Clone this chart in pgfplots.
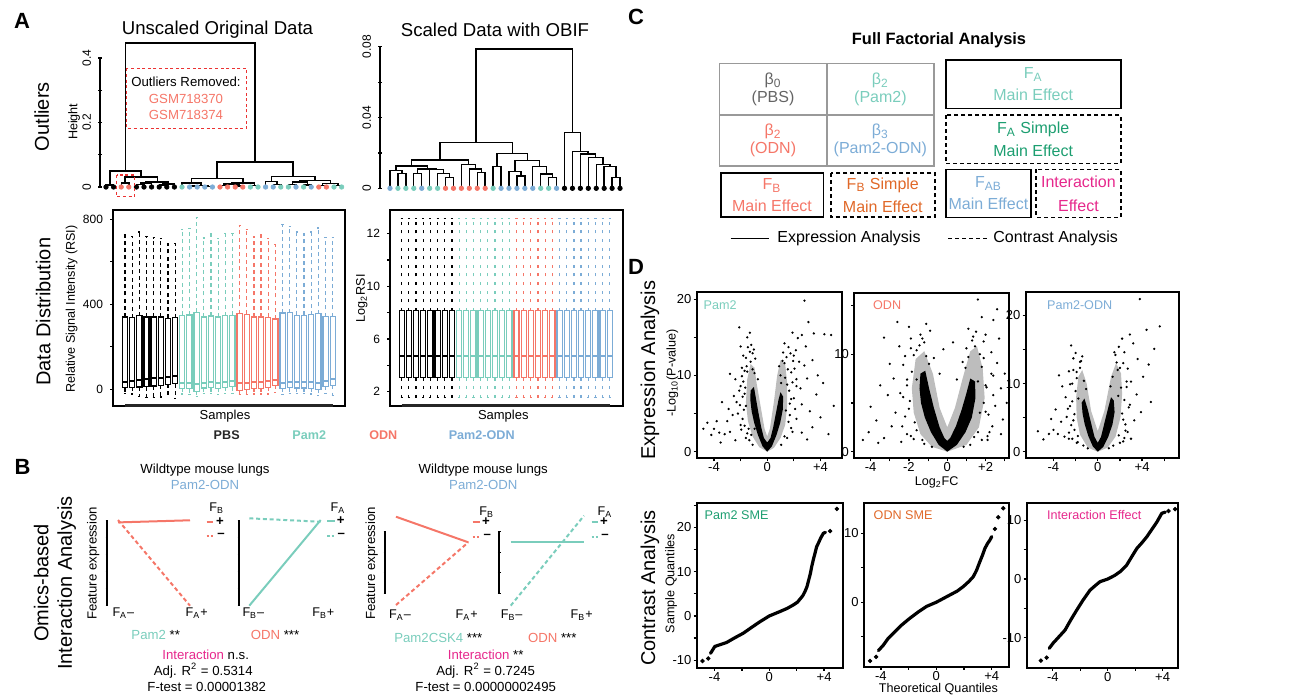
\documentclass[border=0pt]{standalone}
\usepackage{fontspec}
\setmainfont{Liberation Sans}
\usepackage{pgfplots}
\pgfplotsset{compat=1.18}
\usepgfplotslibrary{statistics}

\definecolor{tl}{RGB}{122,205,188}
\definecolor{sa}{RGB}{245,118,104}
\definecolor{bl}{RGB}{124,172,214}
\definecolor{gr}{RGB}{28,158,112}
\definecolor{og}{RGB}{224,104,40}
\definecolor{mg}{RGB}{230,40,140}
\definecolor{rd}{RGB}{235,50,50}
\definecolor{gy}{RGB}{100,100,100}

\newcommand\fs[1]{\fontsize{#1}{#1}\selectfont}
% one prepared box: colour, position, lower whisker, q1, median, q3, upper whisker
\newcommand\bxp[7]{\addplot[#1,line width=0.6pt,boxplot prepared={draw position=#2,lower whisker=#3,lower quartile=#4,median=#5,upper quartile=#6,upper whisker=#7}] coordinates {};}

\pgfplotsset{
  every axis/.append style={scale only axis, anchor=north west, clip=false,
    tick align=outside, major tick length=1.5pt,
    tick style={black, line width=0.6pt},
    axis line style={line width=0.8pt},
    tick label style={font=\fs{6}},
    scaled ticks=false,
    /pgf/number format/assume math mode=true},
  dendro/.style={axis y line=left, axis x line=none, axis line style={-},
    yticklabel style={rotate=90, anchor=south}, ymin=0, major tick length=2pt,
    unbounded coords=jump},
  boxax/.style={xtick=\empty, ytick pos=left, boxplot/draw direction=y,
    boxplot/box extend=0.72, boxplot/whisker extend=0.3,
    boxplot/every median/.style={line width=1pt}},
  inter/.style={axis y line=left, axis x line=none, axis line style={-, line width=1pt},
    yticklabels={}, ymin=0, ymax=1, xmax=1, major tick length=1.4pt},
  dplot/.style={xtick pos=bottom, ytick pos=left, tick label style={font=\fs{6.5}},
    xticklabel style={inner sep=0.6pt}, yticklabel style={inner sep=1pt},
    axis line style={line width=0.9pt}},
  vpts/.style={only marks, mark=*, mark size=0.35pt, black},
  vmid/.style={fill=black!26, draw=none},
}

\begin{document}
\begin{tikzpicture}
\useasboundingbox (0pt,0pt) rectangle (650pt,-348.5pt);

% ---------------- A: dendrograms
\begin{axis}[dendro, at={(50pt,-29pt)}, width=122.7pt, height=64.5pt,
  xmin=0.21, xmax=32.5, ymax=0.4, ytick={0,0.1,0.2,0.3,0.4}, yticklabels={0,,0.2,,0.4}]
\addplot[black, line width=0.7pt] coordinates {
(1,0)(1,0.006)(2,0.006)(2,0)(0,nan)
(3,0)(3,0.012)(4,0.012)(4,0)(0,nan)
(5,0)(5,0.008)(6,0.008)(6,0)(0,nan)
(5.5,0.008)(5.5,0.012)(7,0.012)(7,0)(0,nan)
(8,0)(8,0.006)(9,0.006)(9,0)(0,nan)
(8.5,0.006)(8.5,0.009)(10,0.009)(10,0)(0,nan)
(6.25,0.012)(6.25,0.016)(9.25,0.016)(9.25,0.009)(0,nan)
(3.5,0.012)(3.5,0.031)(7.75,0.031)(7.75,0.016)(0,nan)
(1.5,0.006)(1.5,0.05)(5.625,0.05)(5.625,0.031)(0,nan)
(12,0)(12,0.003)(13,0.003)(13,0)(0,nan)
(14,0)(14,0.002)(15,0.002)(15,0)(0,nan)
(12.5,0.003)(12.5,0.005)(14.5,0.005)(14.5,0.002)(0,nan)
(11,0)(11,0.012)(13.5,0.012)(13.5,0.005)(0,nan)
(16,0)(16,0.004)(17,0.004)(17,0)(0,nan)
(18,0)(18,0.003)(19,0.003)(19,0)(0,nan)
(16.5,0.004)(16.5,0.009)(18.5,0.009)(18.5,0.003)(0,nan)
(20,0)(20,0.005)(21,0.005)(21,0)(0,nan)
(17.5,0.009)(17.5,0.013)(20.5,0.013)(20.5,0.005)(0,nan)
(12.25,0.012)(12.25,0.027)(19,0.027)(19,0.013)(0,nan)
(23,0)(23,0.008)(24,0.008)(24,0)(0,nan)
(22,0)(22,0.017)(23.5,0.017)(23.5,0.008)(0,nan)
(25,0)(25,0.008)(26,0.008)(26,0)(0,nan)
(27,0)(27,0.006)(28,0.006)(28,0)(0,nan)
(25.5,0.008)(25.5,0.015)(27.5,0.015)(27.5,0.006)(0,nan)
(29,0)(29,0.005)(30,0.005)(30,0)(0,nan)
(31,0)(31,0.004)(32,0.004)(32,0)(0,nan)
(29.5,0.005)(29.5,0.010)(31.5,0.010)(31.5,0.004)(0,nan)
(26.5,0.015)(26.5,0.02)(30.5,0.02)(30.5,0.010)(0,nan)
(22.75,0.017)(22.75,0.032)(28.5,0.032)(28.5,0.02)(0,nan)
(15.625,0.027)(15.625,0.078)(25.625,0.078)(25.625,0.032)(0,nan)
(3.5625,0.05)(3.5625,0.447)(20.625,0.447)(20.625,0.078)
};
\addplot[only marks, mark=*, mark size=1.1pt, black] coordinates {(1,0)(2,0)(5,0)(6,0)(7,0)(8,0)(9,0)(10,0)};
\addplot[only marks, mark=*, mark size=1.1pt, sa] coordinates {(3,0)(4,0)(16,0)(17,0)(18,0)(19,0)(29,0)(30,0)};
\addplot[only marks, mark=*, mark size=1.1pt, tl] coordinates {(11,0)(20,0)(21,0)(24,0)(25,0)(27,0)(31,0)(32,0)};
\addplot[only marks, mark=*, mark size=1.1pt, bl] coordinates {(12,0)(13,0)(14,0)(15,0)(22,0)(23,0)(26,0)(28,0)};
\end{axis}

\begin{axis}[dendro, at={(190pt,-23.35pt)}, width=122pt, height=70.8pt,
  xmin=-0.26, xmax=30.5, ymax=0.08, ytick={0,0.02,0.04,0.06,0.08}, yticklabels={0,,0.04,,0.08}]
\addplot[black, line width=0.7pt] coordinates {
(2,0)(2,0.0085)(3,0.0085)(3,0)(0,nan)
(1,0)(1,0.010)(2.5,0.010)(2.5,0.0085)(0,nan)
(4,0)(4,0.0085)(5,0.0085)(5,0)(0,nan)
(8,0)(8,0.006)(9,0.006)(9,0)(0,nan)
(7,0)(7,0.0085)(8.5,0.0085)(8.5,0.006)(0,nan)
(6,0)(6,0.0105)(7.75,0.0105)(7.75,0.0085)(0,nan)
(4.5,0.0085)(4.5,0.011)(6.875,0.011)(6.875,0.0105)(0,nan)
(1.75,0.010)(1.75,0.0126)(5.69,0.0126)(5.69,0.011)(0,nan)
(12,0)(12,0.0088)(13,0.0088)(13,0)(0,nan)
(11,0)(11,0.011)(12.5,0.011)(12.5,0.0088)(0,nan)
(10,0)(10,0.0135)(11.75,0.0135)(11.75,0.011)(0,nan)
(3.72,0.0126)(3.72,0.016)(10.875,0.016)(10.875,0.0135)(0,nan)
(14,0)(14,0.0122)(15,0.0122)(15,0)(0,nan)
(17,0)(17,0.007)(18,0.007)(18,0)(0,nan)
(16,0)(16,0.0095)(17.5,0.0095)(17.5,0.007)(0,nan)
(21,0)(21,0.006)(22,0.006)(22,0)(0,nan)
(20,0)(20,0.008)(21.5,0.008)(21.5,0.006)(0,nan)
(19,0)(19,0.0122)(20.75,0.0122)(20.75,0.008)(0,nan)
(16.75,0.0095)(16.75,0.0156)(19.875,0.0156)(19.875,0.0122)(0,nan)
(14.5,0.0122)(14.5,0.0198)(18.31,0.0198)(18.31,0.0156)(0,nan)
(7.30,0.016)(7.30,0.026)(16.41,0.026)(16.41,0.0198)(0,nan)
(29,0)(29,0.006)(30,0.006)(30,0)(0,nan)
(28,0)(28,0.0123)(29.5,0.0123)(29.5,0.006)(0,nan)
(27,0)(27,0.0136)(28.75,0.0136)(28.75,0.0123)(0,nan)
(26,0)(26,0.0175)(27.875,0.0175)(27.875,0.0136)(0,nan)
(25,0)(25,0.0194)(26.94,0.0194)(26.94,0.0175)(0,nan)
(24,0)(24,0.0207)(25.97,0.0207)(25.97,0.0194)(0,nan)
(23,0)(23,0.0316)(24.98,0.0316)(24.98,0.0207)(0,nan)
(11.85,0.026)(11.85,0.0787)(23.99,0.0787)(23.99,0.0316)
};
\addplot[only marks, mark=*, mark size=1.1pt, bl] coordinates {(1,0)(5,0)(15,0)(16,0)(17,0)(18,0)(19,0)(22,0)};
\addplot[only marks, mark=*, mark size=1.1pt, tl] coordinates {(2,0)(3,0)(4,0)(6,0)(7,0)(14,0)(20,0)(21,0)};
\addplot[only marks, mark=*, mark size=1.1pt, sa] coordinates {(8,0)(9,0)(10,0)(11,0)(12,0)(13,0)};
\addplot[only marks, mark=*, mark size=1.1pt, black] coordinates {(23,0)(24,0)(25,0)(26,0)(27,0)(28,0)(29,0)(30,0)};
\end{axis}

% ---------------- A: box plots
\begin{axis}[boxax, at={(56.5pt,-105pt)}, width=116pt, height=97.85pt,
  xmin=-0.68, xmax=31.72, ymin=-77.2, ymax=843.8,
  ytick={0,200,400,600,800}, yticklabels={0,,400,,800},
  boxplot/every whisker/.style={dash pattern=on 2pt off 1.6pt}]
\bxp{black}{1}{-20}{8}{36}{340}{726}
\bxp{black}{2}{-22}{9}{41}{337}{718}
\bxp{black}{3}{-35}{11}{43}{346}{740}
\bxp{black}{4}{-38}{12}{50}{340}{718}
\bxp{black}{5}{-38}{16}{54}{340}{713}
\bxp{black}{6}{-36}{19}{55}{340}{710}
\bxp{black}{7}{-25}{24}{57}{335}{687}
\bxp{black}{8}{-45}{27}{61}{337}{687}
\bxp{tl}{9}{-22}{5}{30}{348}{751}
\bxp{tl}{10}{-25}{2}{30}{350}{757}
\bxp{tl}{11}{-35}{-10}{25}{362}{808}
\bxp{tl}{12}{-20}{6}{32}{340}{712}
\bxp{tl}{13}{-20}{8}{36}{345}{732}
\bxp{tl}{14}{-25}{4}{30}{340}{709}
\bxp{tl}{15}{-20}{10}{35}{346}{732}
\bxp{tl}{16}{-18}{12}{38}{348}{732}
\bxp{sa}{17}{-25}{-5}{28}{356}{770}
\bxp{sa}{18}{-25}{-2}{30}{353}{751}
\bxp{sa}{19}{-22}{4}{33}{340}{720}
\bxp{sa}{20}{-22}{5}{35}{340}{726}
\bxp{sa}{21}{-22}{10}{38}{339}{710}
\bxp{sa}{22}{-15}{18}{45}{331}{680}
\bxp{bl}{23}{-25}{5}{30}{359}{775}
\bxp{bl}{24}{-20}{8}{33}{361}{765}
\bxp{bl}{25}{-20}{6}{33}{348}{740}
\bxp{bl}{26}{-20}{6}{33}{348}{735}
\bxp{bl}{27}{-22}{5}{34}{351}{740}
\bxp{bl}{28}{-28}{0}{30}{356}{759}
\bxp{bl}{29}{-20}{15}{40}{342}{716}
\bxp{bl}{30}{-28}{18}{50}{342}{716}
\draw[line width=1.3pt, black!85] (axis cs:1,-77.2) -- (axis cs:30,-77.2);
\end{axis}

\begin{axis}[boxax, at={(195pt,-105pt)}, width=116.35pt, height=97.85pt,
  xmin=-0.63, xmax=31.8, ymin=0.94, ymax=15.8,
  ytick={2,4,6,8,10,12,14}, yticklabels={2,,6,,10,,12},
  boxplot/every whisker/.style={dash pattern=on 1.5pt off 2.8pt}]
\pgfplotsinvokeforeach{1,...,8}{\bxp{black}{#1}{1.57}{3.06}{4.73}{8.15}{15.17}}
\pgfplotsinvokeforeach{9,...,16}{\bxp{tl}{#1}{1.57}{3.06}{4.73}{8.15}{15.17}}
\pgfplotsinvokeforeach{17,...,22}{\bxp{sa}{#1}{1.57}{3.06}{4.73}{8.15}{15.17}}
\pgfplotsinvokeforeach{23,...,30}{\bxp{bl}{#1}{1.57}{3.06}{4.73}{8.15}{15.17}}
\draw[line width=1.3pt, black!85] (axis cs:1,0.94) -- (axis cs:30,0.94);
\end{axis}

% ---------------- B: interaction plots
\begin{axis}[inter, at={(53.5pt,-260.35pt)}, width=41.5pt, height=42.5pt,
  xmin=-0.153, ytick={0,0.2,0.4,0.6,0.8,1}]
\addplot[sa, line width=1pt] coordinates {(0,0.98)(1,1.005)};
\addplot[sa, line width=1pt, dash pattern=on 2pt off 1.4pt] coordinates {(0,1.008)(1,0)};
\end{axis}
\begin{axis}[inter, at={(119.5pt,-260.35pt)}, width=40.85pt, height=42.5pt,
  xmin=-0.144, ytick={0,0.2,0.4,0.6,0.8,1}]
\addplot[tl, line width=1pt, dash pattern=on 2pt off 1.4pt] coordinates {(0,1.028)(1,0.988)};
\addplot[tl, line width=1pt] coordinates {(0,0)(1,1.008)};
\end{axis}
\begin{axis}[inter, at={(192.5pt,-265.85pt)}, width=41.65pt, height=30.8pt,
  xmin=-0.152, ytick={0,0.3333,0.6667,1}]
\addplot[sa, line width=1pt] coordinates {(0,1.243)(1,0.828)};
\addplot[sa, line width=1pt, dash pattern=on 2pt off 1.4pt] coordinates {(0,-0.19)(1,0.828)};
\end{axis}
\begin{axis}[inter, at={(249.65pt,-265.85pt)}, width=42.35pt, height=30.8pt,
  xmin=-0.156, ytick={0,0.3333,0.6667,1}]
\addplot[tl, line width=1pt] coordinates {(0,0.828)(1,0.828)};
\addplot[tl, line width=1pt, dash pattern=on 2pt off 1.4pt] coordinates {(0,-0.2)(1,1.26)};
\end{axis}

% ---------------- D: volcano plots
\begin{axis}[dplot, at={(348.35pt,-146.15pt)}, width=72.5pt, height=83pt,
  xmin=-5.3, xmax=5.6, ymin=-0.87, ymax=20.9,
  xtick={-4,-2,0,2,4}, xticklabels={-4,,0,,+4}, ytick={0,5,10,15,20}, yticklabels={0,,10,,20}]
\addplot[vmid] coordinates {(0,0)(-0.6,0.6)(-1.1,2)(-1.45,4)(-1.6,6.5)(-1.5,9.5)(-1.25,11.5)(-0.95,11)(-0.8,9)(-0.5,6)(-0.2,3)(0,2)(0.2,3)(0.5,6.5)(0.75,10)(1.0,12)(1.35,11.5)(1.5,9)(1.5,6)(1.35,3.5)(1.0,1.8)(0.5,0.5)};
\addplot[fill=black, draw=none] coordinates {(0,0)(-0.35,0.7)(-0.7,2.2)(-0.98,3.8)(-1.17,5.3)(-1.27,6.8)(-1.25,8)(-1.0,8.5)(-0.85,7)(-0.65,5)(-0.45,3.2)(-0.25,1.8)(0,1.2)(0.25,1.8)(0.45,3.2)(0.65,5)(0.85,6.8)(1.0,7.8)(1.2,7.2)(1.17,5.5)(0.98,3.8)(0.7,2.2)(0.35,0.7)};
\addplot[vpts] coordinates {
(-1.5,10.5)(-1.8,9.2)(-2.1,8.0)(-1.6,12.3)(-1.3,13.1)(-1.9,11.0)(-2.3,6.5)(-2.6,4.8)(-2.0,3.5)(-2.8,2.6)
(-3.2,2.3)(-3.6,2.5)(-4.2,2.2)(-4.0,3.0)(-3.0,4.0)(-2.4,9.5)(-1.2,14.0)(-1.0,13.4)(-2.0,13.8)(-1.5,15.0)
(-0.9,12.2)(-1.7,7.6)(-2.5,7.3)(-2.2,5.0)(-1.4,3.0)(-1.6,1.8)(-2.4,1.5)(-3.5,1.2)(-4.8,3.0)(-3.4,6.5)
(-2.8,10.2)(-1.1,10.8)(-0.7,9.5)(-1.3,15.6)(-2.1,16.3)(-0.95,3.0)(-1.2,2.2)(-2.9,5.6)(-3.8,4.0)(-4.5,3.8)
(1.3,11.6)(1.6,13.7)(2.0,12.6)(1.8,10.4)(2.2,9.5)(2.5,8.3)(2.8,11.3)(1.5,8.8)(2.3,14.9)(1.9,15.6)
(2.6,15.3)(1.2,13.0)(2.0,7.0)(2.6,6.2)(3.0,9.6)(3.4,12.0)(3.8,10.0)(3.2,5.3)(2.2,4.3)(1.8,3.1)
(2.6,2.5)(3.4,3.2)(4.0,4.5)(4.3,15.4)(4.8,15.3)(3.5,15.5)(2.8,19.8)(3.1,17.0)(1.4,5.4)(1.0,10.0)
(0.9,11.2)(1.7,6.3)(2.4,11.8)(3.7,7.5)(4.2,9.0)(2.9,13.8)(1.5,1.8)(3.0,1.6)(4.6,2.3)(5.0,6.0)
(-1.75,5.5)(-1.85,7.2)(-1.65,8.4)(-1.9,9.9)(-1.55,11.2)(-1.45,13.7)(-1.85,4.3)(-1.7,3.4)(-1.35,1.5)(-1.1,0.9)
(-1.95,2.9)(-2.05,6.1)(-1.8,12.6)(-1.1,12.9)(-1.25,11.8)(-1.7,10.6)(-2.0,8.6)(-1.6,6.0)(-1.5,2.4)(-0.95,10.3)
(1.7,4.8)(1.8,6.9)(1.65,8.0)(1.9,9.1)(1.55,10.8)(1.45,12.4)(1.95,11.9)(1.6,3.9)(1.3,2.0)(1.05,0.9)
(2.1,5.6)(2.2,8.6)(2.05,10.9)(1.15,11.9)(1.35,9.7)(1.75,12.9)(1.9,2.6)(2.15,13.3)(1.05,9.0)(1.3,14.2)};
\end{axis}

\begin{axis}[dplot, at={(427.15pt,-146.35pt)}, width=77.35pt, height=82.8pt,
  xmin=-4.85, xmax=3.22, ymin=-0.68, ymax=16.3,
  xtick={-4,-3,-2,-1,0,1,2,3}, xticklabels={-4,,-2,,0,,+2,}, ytick={0,5,10,15}, yticklabels={0,,10,}]
\addplot[vmid] coordinates {(0,0)(-0.8,0.5)(-1.4,1.8)(-1.75,4.0)(-1.85,6.5)(-1.65,9.5)(-1.2,10.3)(-0.75,8)(-0.4,4.5)(0,2.5)(0.4,4.5)(0.8,7.5)(1.2,10.3)(1.55,10.8)(1.85,8.5)(1.95,5.5)(1.65,2.5)(1.0,0.7)};
\addplot[fill=black, draw=none] coordinates {(0,0)(-0.45,0.7)(-0.85,2.0)(-1.17,3.5)(-1.37,5.0)(-1.45,6.5)(-1.4,8.0)(-1.15,8.3)(-0.95,6.5)(-0.7,4.5)(-0.4,2.5)(-0.15,1.4)(0,1.1)(0.15,1.4)(0.45,2.6)(0.75,4.3)(1.0,6.0)(1.2,7.5)(1.45,7.2)(1.47,5.5)(1.28,3.5)(0.95,2.0)(0.5,0.7)};
\addplot[vpts] coordinates {
(-2.2,9.8)(-2.5,10.8)(-1.9,11.6)(-1.1,13.1)(-1.4,12.0)(-2.8,7.5)(-3.1,5.8)(-2.7,4.0)(-3.7,3.2)(-4.1,2.0)
(-3.3,1.4)(-2.4,1.0)(-2.9,2.6)(-2.0,12.8)(-0.9,12.4)(-3.5,6.8)(-2.1,7.4)(-1.7,3.0)(-3.0,9.0)(-4.0,4.6)
(-1.3,1.2)(-2.3,5.6)(-1.2,11.2)(-2.6,13.3)(-0.7,9.6)(-3.6,0.9)(-4.4,1.2)(-1.9,1.6)(-1.6,10.4)(-3.3,11.7)
(1.5,12.3)(2.4,13.5)(1.6,15.6)(2.0,12.0)(2.3,10.2)(2.6,9.1)(2.8,6.5)(2.5,4.7)(2.9,3.3)(2.2,2.0)
(1.9,9.6)(1.3,11.4)(1.0,10.6)(2.7,11.6)(3.0,8.0)(1.8,13.8)(2.1,1.2)(2.8,1.8)(0.8,9.2)(1.1,12.6)
(2.6,14.6)(2.0,6.8)(1.7,4.0)(3.1,5.0)(2.4,7.8)(1.4,1.5)(0.5,7.4)(-0.4,8.0)(-0.2,10.5)(0.3,11.2)
(-1.95,5.2)(-2.1,6.8)(-1.85,8.2)(-2.2,3.6)(-1.6,2.2)(-1.2,0.8)(-2.3,8.9)(-1.75,9.9)(-1.45,10.9)(-1.1,9.8)
(-2.0,4.4)(-1.75,1.3)(-2.35,2.6)(-1.3,11.6)(-0.95,9.0)(-2.45,6.0)(-1.9,10.6)(-1.6,7.4)(-2.1,1.8)(-0.8,0.5)
(1.9,5.0)(2.05,6.6)(1.8,8.7)(2.15,3.8)(1.6,2.0)(1.2,0.7)(2.3,8.0)(1.7,10.0)(1.45,10.8)(1.1,9.7)
(2.0,4.1)(1.8,1.2)(2.35,2.6)(1.35,11.8)(0.95,8.6)(2.4,5.8)(1.9,11.3)(1.6,7.2)(2.1,1.6)(0.85,0.5)};
\end{axis}

\begin{axis}[dplot, at={(512.85pt,-146.15pt)}, width=76.8pt, height=83pt,
  xmin=-6.5, xmax=7.36, ymin=-0.97, ymax=23.4,
  xtick={-4,-2,0,2,4,6}, xticklabels={-4,,0,,+4,}, ytick={0,5,10,15,20}, yticklabels={0,,10,,20}]
\addplot[vmid] coordinates {(0,0)(-0.9,0.6)(-1.6,2.5)(-1.9,5)(-1.95,8)(-1.75,11)(-1.4,12)(-1.0,10)(-0.6,6)(0,3)(0.6,6)(1.2,11)(1.65,13)(2.1,11.5)(2.2,8.5)(2.05,5)(1.6,2.2)(0.9,0.6)};
\addplot[fill=black, draw=none] coordinates {(0,0)(-0.45,0.8)(-0.85,2.3)(-1.17,4)(-1.37,5.6)(-1.45,7.2)(-1.2,7.8)(-0.9,6.2)(-0.6,4.2)(-0.3,2.2)(0,1.3)(0.3,2.2)(0.6,4.2)(0.95,6.5)(1.2,8.0)(1.45,7.5)(1.52,5.8)(1.33,4.0)(0.95,2.2)(0.5,0.7)};
\addplot[vpts] coordinates {
(-2.2,13.7)(-2.6,11.8)(-2.8,5.1)(-4,3.2)(-3.3,4.4)(-3.6,2.6)(-2.9,8.0)(-2.3,10.0)(-1.6,13.2)(-2.5,6.7)
(-3.0,2.2)(-4.4,2.6)(-4.9,1.8)(-3.8,6.2)(-2.0,14.5)(-1.4,14.0)(-3.2,9.6)(-2.1,3.2)(-1.8,1.4)(-2.6,1.9)
(-5.4,3.0)(-3.5,11.2)(-2.4,15.6)(-1.9,10.8)(-4.2,4.8)
(3.2,15.9)(4.4,17.9)(5.6,18.4)(3.8,22.4)(2.4,14.6)(2.7,12.2)(3.0,10.3)(3.5,8.4)(2.9,6.9)(3.3,4.6)
(2.5,3.1)(2.2,16.6)(2.9,17.2)(3.6,13.6)(4.1,11.0)(4.6,12.8)(2.6,9.5)(1.9,15.4)(1.5,14.6)(3.9,5.8)
(4.8,7.3)(2.3,1.5)(3.0,1.9)(1.8,12.0)(5.1,15.1)
(-2.1,5.5)(-2.3,7.4)(-2.0,8.9)(-2.4,3.9)(-1.8,2.3)(-1.3,0.9)(-2.5,9.9)(-1.9,11.7)(-1.6,12.3)(-1.25,10.4)
(-2.2,4.6)(-1.9,1.3)(-2.6,2.8)(-1.5,13.3)(-1.05,9.2)(-2.7,6.3)(-2.2,12.0)(-1.75,7.8)(-2.3,1.9)(-0.9,0.5)
(2.2,5.6)(2.4,7.6)(2.1,9.4)(2.5,4.0)(1.9,2.4)(1.4,0.9)(2.6,10.3)(2.0,12.3)(1.7,13.1)(1.35,11.0)
(2.3,4.7)(2.0,1.3)(2.7,2.9)(1.6,14.2)(1.15,9.6)(2.8,6.5)(2.3,13.0)(1.85,8.2)(2.4,2.0)(1.0,0.5)};
\end{axis}

% ---------------- D: QQ plots
\begin{axis}[dplot, at={(348.35pt,-251.35pt)}, width=73pt, height=82.5pt,
  xmin=-5.3, xmax=5.36, ymin=-11.7, ymax=25.6,
  xtick={-4,-2,0,2,4}, xticklabels={-4,,0,,+4},
  ytick={-10,-5,0,5,10,15,20,25}, yticklabels={-10,,0,,10,,20,}]
\addplot[black, line width=1.6pt, line join=round, line cap=round] coordinates {
(-4.29,-8.45)(-3.98,-6.9)(-3.6,-6.5)(-3.12,-6.0)(-2.5,-4.9)(-1.9,-3.9)(-1.3,-2.6)(-0.68,-1.3)(0,0)
(0.78,1.0)(1.3,1.7)(1.76,2.5)(2.05,3.1)(2.24,3.8)(2.45,4.6)(2.6,5.5)(2.75,6.6)(2.85,7.8)(3.0,9.6)
(3.1,11.2)(3.22,12.8)(3.34,14.2)(3.45,15.6)(3.59,16.5)(3.75,17.6)(3.95,18.7)(4.1,18.9)};
\addplot[only marks, mark=*, mark size=0.9pt, black] coordinates {(-4.88,-10.2)(-4.46,-9.6)(4.44,19.2)(4.93,24.2)};
\end{axis}

\begin{axis}[dplot, at={(432pt,-251.35pt)}, width=72.65pt, height=82pt,
  xmin=-5.22, xmax=5.27, ymin=-9.33, ymax=14.4,
  xtick={-4,-2,0,2,4}, xticklabels={-4,,0,,+4},
  ytick={-5,0,5,10}, yticklabels={,0,,10}]
\addplot[black, line width=1.6pt, line join=round, line cap=round] coordinates {
(-4.18,-7.0)(-3.82,-6.2)(-3.5,-5.3)(-3.1,-4.5)(-2.5,-3.3)(-1.9,-2.3)(-1.3,-1.4)(-0.7,-0.6)(0,0)
(0.99,1.06)(1.5,1.6)(1.95,2.27)(2.35,3.0)(2.67,3.7)(2.9,4.6)(3.15,5.9)(3.35,6.9)(3.51,7.8)
(3.7,8.5)(3.87,9.0)(4.0,9.5)};
\addplot[only marks, mark=*, mark size=0.9pt, black] coordinates {(-4.78,-8.5)(-4.35,-7.9)(4.23,10.6)(4.47,12.3)(4.83,13.6)};
\end{axis}

\begin{axis}[dplot, at={(513.35pt,-251.35pt)}, width=75.5pt, height=82.5pt,
  xmin=-5.9, xmax=5.1, ymin=-15.1, ymax=13.0,
  xtick={-4,-2,0,2,4}, xticklabels={-4,,0,,+4},
  ytick={-10,-5,0,5,10}, yticklabels={-10,,0,,10}]
\addplot[black, line width=1.6pt, line join=round, line cap=round] coordinates {
(-4.26,-11.8)(-3.97,-10.9)(-3.5,-9.7)(-3.11,-8.7)(-2.7,-7.0)(-2.26,-5.3)(-1.8,-3.6)(-1.29,-1.9)
(-0.9,-1.1)(-0.56,-0.45)(0,0)(0.5,0.6)(0.9,1.25)(1.15,1.8)(1.39,2.4)(1.75,3.8)(2.12,5.2)(2.5,6.2)
(2.85,7.2)(3.2,8.4)(3.58,9.7)(3.94,11.2)(4.2,11.4)};
\addplot[only marks, mark=*, mark size=0.9pt, black] coordinates {(-4.87,-13.9)(-4.45,-13.4)(4.43,11.6)(4.91,11.9)};
\end{axis}

% ---------------- annotations
\begin{scope}[every node/.style={inner sep=0pt}]
% panel letters
\node[font=\bfseries\fs{11}] at (11pt,-10.5pt) {A};
\node[font=\bfseries\fs{11}] at (11.25pt,-233.35pt) {B};
\node[font=\bfseries\fs{11}] at (318pt,-8.3pt) {C};
\node[font=\bfseries\fs{11}] at (318pt,-133.5pt) {D};
% A
\node[font=\fs{9.3}] at (108.75pt,-15pt) {Unscaled Original Data};
\node[font=\fs{9.3}] at (247.5pt,-15pt) {Scaled Data with OBIF};
\node[font=\fs{10}, rotate=90] at (20.85pt,-58.35pt) {Outliers};
\node[font=\fs{10}, rotate=90] at (21.65pt,-155.85pt) {Data Distribution};
\node[font=\fs{6.3}, rotate=90] at (37pt,-60.85pt) {Height};
\node[font=\fs{6.3}, rotate=90] at (35.85pt,-154.5pt) {Relative Signal Intensity (RSI)};
\node[font=\fs{6.3}, rotate=90] at (180.85pt,-149.15pt) {Log\textsubscript{2}RSI};
\node[font=\fs{6.5}] at (112.5pt,-207.85pt) {Samples};
\node[font=\fs{6.5}] at (251.65pt,-207.85pt) {Samples};
\node[font=\bfseries\fs{6.3}, text=black!85] at (113.35pt,-217.5pt) {PBS};
\node[font=\bfseries\fs{6.3}, text=tl] at (154.65pt,-217.5pt) {Pam2};
\node[font=\bfseries\fs{6.3}, text=sa] at (191.65pt,-217.5pt) {ODN};
\node[font=\bfseries\fs{6.3}, text=bl] at (240.85pt,-217.5pt) {Pam2-ODN};
\draw[rd, line width=0.7pt, dash pattern=on 1.5pt off 1.3pt] (63.35pt,-34.15pt) rectangle (123.35pt,-64.15pt);
\draw[rd, line width=0.7pt, dash pattern=on 1.5pt off 1.3pt] (58.35pt,-87.5pt) rectangle (67.15pt,-98.35pt);
\node[font=\fs{6.6}] at (93pt,-40.85pt) {Outliers Removed:};
\node[font=\fs{6.6}, text=sa] at (93pt,-49.5pt) {GSM718370};
\node[font=\fs{6.6}, text=sa] at (93pt,-57.5pt) {GSM718374};
% B
\node[font=\fontsize{10}{11.7}\selectfont, rotate=90, align=center] at (27.5pt,-291.5pt) {Omics-based\\Interaction Analysis};
\node[font=\fs{6.6}, rotate=90] at (46.65pt,-281.65pt) {Feature expression};
\node[font=\fs{6.6}, rotate=90] at (185.85pt,-281.65pt) {Feature expression};
\node[font=\fs{6.6}] at (102.5pt,-235pt) {Wildtype mouse lungs};
\node[font=\fs{6.6}, text=bl] at (102.5pt,-242.5pt) {Pam2-ODN};
\node[font=\fs{6.6}] at (241.65pt,-235pt) {Wildtype mouse lungs};
\node[font=\fs{6.6}, text=bl] at (241.65pt,-242.5pt) {Pam2-ODN};
% B legends
\node[font=\fs{6.3}] at (108.35pt,-254.15pt) {F\textsubscript{B}};
\draw[sa, line width=1pt] (103.35pt,-260.85pt) -- (106.65pt,-260.85pt);
\node[font=\bfseries\fs{6.6}] at (110pt,-260.85pt) {+};
\draw[sa, line width=1pt, dash pattern=on 1.2pt off 0.9pt] (103.35pt,-267.85pt) -- (107.5pt,-267.85pt);
\node[font=\bfseries\fs{6.6}] at (110.5pt,-267.85pt) {–};
\node[font=\fs{6.3}] at (169pt,-254.15pt) {F\textsubscript{A}};
\draw[tl, line width=1pt] (163.65pt,-260.5pt) -- (167.35pt,-260.5pt);
\node[font=\bfseries\fs{6.6}] at (170.35pt,-260.5pt) {+};
\draw[tl, line width=1pt, dash pattern=on 1.2pt off 0.9pt] (163.65pt,-267.85pt) -- (167.5pt,-267.85pt);
\node[font=\bfseries\fs{6.6}] at (170.65pt,-267.85pt) {–};
\node[font=\fs{6.3}] at (243.35pt,-255.85pt) {F\textsubscript{B}};
\draw[sa, line width=1pt] (236.35pt,-260.85pt) -- (240pt,-260.85pt);
\node[font=\bfseries\fs{6.6}] at (243pt,-260.85pt) {+};
\draw[sa, line width=1pt, dash pattern=on 1.2pt off 0.9pt] (236.35pt,-268.35pt) -- (240.5pt,-268.35pt);
\node[font=\bfseries\fs{6.6}] at (243.65pt,-268.35pt) {–};
\node[font=\fs{6.3}] at (302.5pt,-255.85pt) {F\textsubscript{A}};
\draw[tl, line width=1pt] (295.85pt,-260.85pt) -- (299.15pt,-260.85pt);
\node[font=\bfseries\fs{6.6}] at (302pt,-260.85pt) {+};
\draw[tl, line width=1pt, dash pattern=on 1.2pt off 0.9pt] (295.85pt,-268.35pt) -- (300pt,-268.35pt);
\node[font=\bfseries\fs{6.6}] at (302.5pt,-268.35pt) {–};
% B factor labels
\node[font=\fs{6.3}] at (61.65pt,-306.65pt) {F\textsubscript{A}–};
\node[font=\fs{6.3}] at (98.35pt,-306.65pt) {F\textsubscript{A}+};
\node[font=\fs{6.3}] at (126.65pt,-306.65pt) {F\textsubscript{B}–};
\node[font=\fs{6.3}] at (161.65pt,-306.65pt) {F\textsubscript{B}+};
\node[font=\fs{6.3}] at (200pt,-307.5pt) {F\textsubscript{A}–};
\node[font=\fs{6.3}] at (233.35pt,-307.5pt) {F\textsubscript{A}+};
\node[font=\fs{6.3}] at (255.85pt,-307.5pt) {F\textsubscript{B}–};
\node[font=\fs{6.3}] at (290.85pt,-307.5pt) {F\textsubscript{B}+};
% B statistics
\node[font=\fs{6.6}] at (77.85pt,-317.5pt) {\textcolor{tl}{Pam2} **};
\node[font=\fs{6.6}] at (137.5pt,-317.5pt) {\textcolor{sa}{ODN} ***};
\node[font=\fs{6.6}] at (102.85pt,-327.5pt) {\textcolor{mg}{Interaction} n.s.};
\node[font=\fs{6.6}] at (101.65pt,-335.35pt) {Adj. R\textsuperscript{2} = 0.5314};
\node[font=\fs{6.6}] at (103.35pt,-343.65pt) {F-test = 0.00001382};
\node[font=\fs{6.6}] at (219.15pt,-319.15pt) {\textcolor{tl}{Pam2CSK4} ***};
\node[font=\fs{6.6}] at (276.15pt,-319.15pt) {\textcolor{sa}{ODN} ***};
\node[font=\fs{6.6}] at (242.85pt,-327.5pt) {\textcolor{mg}{Interaction} **};
\node[font=\fs{6.6}] at (242.85pt,-335.35pt) {Adj. R\textsuperscript{2} = 0.7245};
\node[font=\fs{6.6}] at (242.85pt,-343.65pt) {F-test = 0.00000002495};
% C
\node[font=\bfseries\fs{8.2}] at (469.5pt,-20pt) {Full Factorial Analysis};
\draw[black!40, line width=0.8pt] (359.65pt,-31.65pt) rectangle (467pt,-82.85pt);
\draw[black!40, line width=0.8pt] (413.35pt,-31.65pt) -- (413.35pt,-82.85pt);
\draw[black!40, line width=0.8pt] (359.65pt,-57.5pt) -- (467pt,-57.5pt);
\node[font=\fontsize{8}{8.7}\selectfont, align=center, text=gy] at (386.5pt,-44.6pt) {β\textsubscript{0}\\(PBS)};
\node[font=\fontsize{8}{8.7}\selectfont, align=center, text=tl] at (440.2pt,-44.6pt) {β\textsubscript{2}\\(Pam2)};
\node[font=\fontsize{8}{8.7}\selectfont, align=center, text=sa] at (386.5pt,-70.2pt) {β\textsubscript{2}\\(ODN)};
\node[font=\fontsize{8}{8.7}\selectfont, align=center, text=bl] at (440.2pt,-70.2pt) {β\textsubscript{3}\\(Pam2-ODN)};
\draw[line width=0.8pt] (472.85pt,-30pt) rectangle (560.35pt,-54.15pt);
\draw[line width=0.8pt, dash pattern=on 2pt off 1.5pt] (472.85pt,-57.5pt) rectangle (560.35pt,-81.65pt);
\draw[line width=0.8pt] (360.35pt,-86.5pt) rectangle (411.65pt,-108.5pt);
\draw[line width=0.8pt, dash pattern=on 2pt off 1.5pt] (415.35pt,-86.5pt) rectangle (467.5pt,-108.5pt);
\draw[line width=0.8pt] (472.85pt,-84.65pt) rectangle (515.5pt,-108.65pt);
\draw[line width=0.8pt, dash pattern=on 2pt off 1.5pt] (518pt,-84.65pt) rectangle (560.35pt,-108.65pt);
\node[font=\fontsize{8}{11}\selectfont, align=center, text=tl] at (516.6pt,-42.1pt) {F\textsubscript{A}\\Main Effect};
\node[font=\fontsize{8}{11.5}\selectfont, align=center, text=gr] at (516.6pt,-69.6pt) {F\textsubscript{A} Simple\\Main Effect};
\node[font=\fontsize{8}{11}\selectfont, align=center, text=sa] at (386pt,-97.5pt) {F\textsubscript{B}\\Main Effect};
\node[font=\fontsize{8}{11.5}\selectfont, align=center, text=og] at (441.4pt,-97.5pt) {F\textsubscript{B} Simple\\Main Effect};
\node[font=\fontsize{8}{11}\selectfont, align=center, text=bl] at (494.2pt,-96.65pt) {F\textsubscript{AB}\\Main Effect};
\node[font=\fontsize{8}{12}\selectfont, align=center, text=mg] at (539.2pt,-96.65pt) {Interaction\\Effect};
\draw[line width=0.8pt] (365.35pt,-119.15pt) -- (384.65pt,-119.15pt);
\node[font=\fs{8}, anchor=west] at (388.5pt,-119.15pt) {Expression Analysis};
\draw[line width=0.8pt, dash pattern=on 2pt off 1.5pt] (474pt,-119.15pt) -- (495pt,-119.15pt);
\node[font=\fs{8}, anchor=west] at (496.5pt,-119.15pt) {Contrast Analysis};
% D
\node[font=\fs{10}, rotate=90] at (325pt,-185pt) {Expression Analysis};
\node[font=\fs{10}, rotate=90] at (325pt,-294pt) {Contrast Analysis};
\node[font=\fs{6.3}, rotate=90] at (336.2pt,-186.5pt) {-Log\textsubscript{10}(P-value)};
\node[font=\fs{6.3}, rotate=90] at (335.5pt,-291.7pt) {Sample Quantiles};
\node[font=\fs{6.3}] at (468.3pt,-241pt) {Log\textsubscript{2}FC};
\node[font=\fs{6.3}] at (469.2pt,-344.4pt) {Theoretical Quantiles};
\node[font=\fs{6.3}, anchor=west, text=tl] at (351.65pt,-152.5pt) {Pam2};
\node[font=\fs{6.3}, anchor=west, text=sa] at (436.35pt,-152.5pt) {ODN};
\node[font=\fs{6.3}, anchor=west, text=bl] at (523.35pt,-152.5pt) {Pam2-ODN};
\node[font=\fs{6.3}, anchor=west, text=gr] at (352.15pt,-257.5pt) {Pam2 SME};
\node[font=\fs{6.3}, anchor=west, text=og] at (436.65pt,-257.5pt) {ODN SME};
\node[font=\fs{6.3}, anchor=west, text=mg] at (523.35pt,-257.5pt) {Interaction Effect};
\end{scope}
\end{tikzpicture}
\end{document}
